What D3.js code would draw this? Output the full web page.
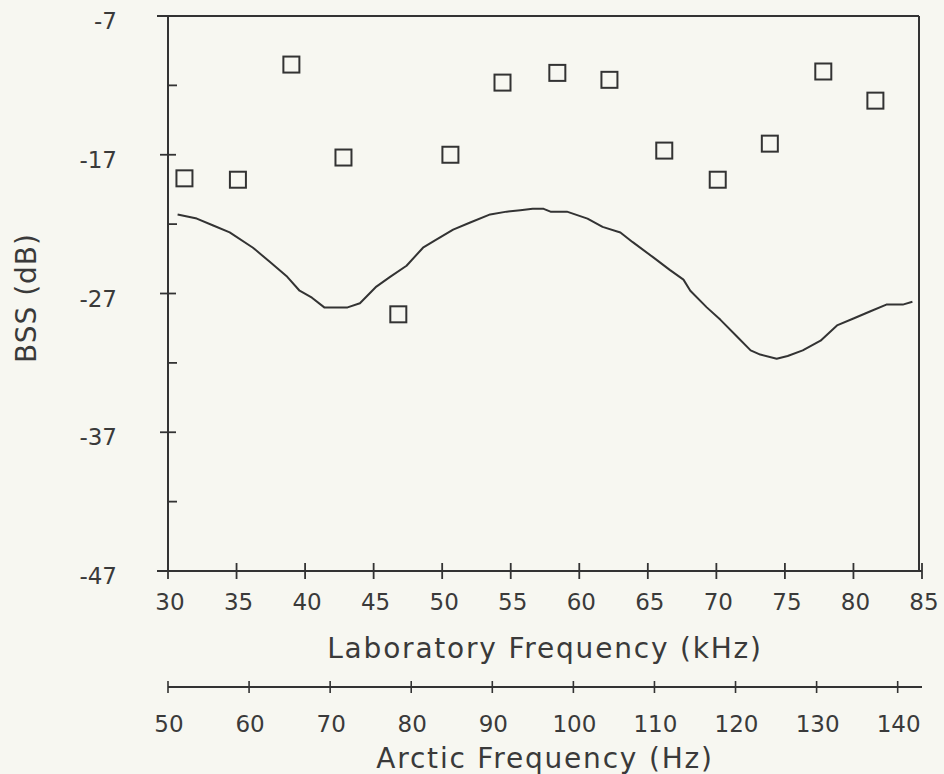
<!DOCTYPE html>
<html>
<head>
<meta charset="utf-8">
<script src="https://cdn.jsdelivr.net/npm/d3@7"></script>
<style>
  html, body { margin: 0; padding: 0; background: #f7f7f1; }
  svg { display: block; }
  text { font-family: "DejaVu Sans", sans-serif; fill: #3a3a3a; }
</style>
</head>
<body>
<svg id="chart" width="944" height="774"></svg>
<script>
// ---- data ----
const measuredFreq = [31.2, 35.1, 39.0, 42.8, 46.8, 50.6, 54.4, 58.4, 62.2, 66.2, 70.1, 73.9, 77.8, 81.6];
const measuredBSS  = [-18.7, -18.8, -10.5, -17.2, -28.5, -17.0, -11.8, -11.1, -11.6, -16.7, -18.8, -16.2, -11.0, -13.1];

const modelFreq = [30.7, 32.1, 33.3, 34.5, 36.2, 37.4, 38.7, 39.6, 40.5, 41.4, 43.1, 44.0, 45.2, 46.2, 47.4,
                   48.6, 49.6, 50.8, 52.0, 53.5, 54.7, 55.7, 56.6, 57.4, 57.9, 59.1, 60.6, 61.7, 63.0, 63.9,
                   65.4, 66.6, 67.6, 68.1, 69.3, 70.3, 71.5, 72.5, 73.2, 74.4, 75.2, 76.3, 77.6, 78.8, 80.0,
                   81.2, 82.4, 83.6, 84.3];
const modelBSS  = [-21.3, -21.6, -22.1, -22.6, -23.7, -24.7, -25.8, -26.8, -27.3, -28.0, -28.0, -27.7, -26.5, -25.8, -25.0,
                   -23.7, -23.1, -22.4, -21.9, -21.3, -21.1, -21.0, -20.9, -20.9, -21.1, -21.1, -21.6, -22.2, -22.6, -23.3,
                   -24.4, -25.3, -26.0, -26.8, -28.0, -28.9, -30.1, -31.1, -31.4, -31.7, -31.5, -31.1, -30.4, -29.3, -28.8,
                   -28.3, -27.8, -27.8, -27.6];

const yMajorTicks = [-7, -17, -27, -37, -47];
const yMinorTicks = [-12, -22, -32, -42];
const labTicks = [30, 35, 40, 45, 50, 55, 60, 65, 70, 75, 80, 85];
const arcticTicks = [50, 60, 70, 80, 90, 100, 110, 120, 130, 140];

const yTitle = "BSS (dB)";
const labTitle = "Laboratory Frequency (kHz)";
const arcticTitle = "Arctic Frequency (Hz)";

// ---- layout ----
const ink = "#333";
const pLeft = 168, pRight = 922, pTop = 16, pBottom = 571;

const x = d3.scaleLinear().domain([30, 85]).range([pLeft, pRight]);
const xArctic = d3.scaleLinear().domain([50, 143]).range([pLeft, pRight]);
const y = d3.scaleLinear().domain([-47, -7]).range([pBottom, pTop]);

const svg = d3.select("#chart");

// frame: top and right border
svg.append("line").attr("x1", pLeft - 11).attr("x2", pRight - 3).attr("y1", pTop).attr("y2", pTop)
  .attr("stroke", ink).attr("stroke-width", 2);
svg.append("line").attr("x1", pRight - 3).attr("x2", pRight - 3).attr("y1", pTop).attr("y2", pBottom)
  .attr("stroke", ink).attr("stroke-width", 2);

// left axis
const yAxisG = svg.append("g").attr("transform", `translate(${pLeft},0)`);
yAxisG.append("line").attr("y1", pTop).attr("y2", pBottom).attr("stroke", ink).attr("stroke-width", 2);
yAxisG.selectAll("line.maj").data(yMajorTicks).join("line").attr("class", "maj")
  .attr("x1", -8).attr("x2", 8).attr("y1", d => y(d)).attr("y2", d => y(d))
  .attr("stroke", ink).attr("stroke-width", 1.8);
yAxisG.selectAll("line.min").data(yMinorTicks).join("line").attr("class", "min")
  .attr("x1", 0).attr("x2", 9).attr("y1", d => y(d)).attr("y2", d => y(d))
  .attr("stroke", ink).attr("stroke-width", 1.8);
yAxisG.selectAll("text").data(yMajorTicks).join("text")
  .attr("x", -51).attr("y", d => y(d) + 13)
  .attr("text-anchor", "end").attr("font-size", 23)
  .text(d => d < 0 ? "-" + Math.abs(d) : d);

// bottom lab axis
const xAxisG = svg.append("g").attr("transform", `translate(0,${pBottom})`);
xAxisG.append("line").attr("x1", pLeft - 11).attr("x2", pRight).attr("stroke", ink).attr("stroke-width", 2);
xAxisG.selectAll("line.t").data(labTicks).join("line").attr("class", "t")
  .attr("x1", d => x(d)).attr("x2", d => x(d)).attr("y1", d => d === 30 ? 0 : -8).attr("y2", 8)
  .attr("stroke", ink).attr("stroke-width", 1.8);
xAxisG.selectAll("text").data(labTicks).join("text")
  .attr("x", d => x(d) + 2).attr("y", 39)
  .attr("text-anchor", "middle").attr("font-size", 23)
  .text(d => d);

svg.append("text").attr("x", (pLeft + pRight) / 2).attr("y", 658)
  .attr("text-anchor", "middle").attr("font-size", 28).attr("letter-spacing", 1.8)
  .text(labTitle);

// arctic axis
const aY = 687;
const aG = svg.append("g").attr("transform", `translate(0,${aY})`);
aG.append("line").attr("x1", xArctic(50)).attr("x2", pRight).attr("stroke", ink).attr("stroke-width", 2);
aG.selectAll("line.t").data(arcticTicks).join("line").attr("class", "t")
  .attr("x1", d => xArctic(d)).attr("x2", d => xArctic(d)).attr("y1", -6).attr("y2", 6)
  .attr("stroke", ink).attr("stroke-width", 1.6);
aG.selectAll("text").data(arcticTicks).join("text")
  .attr("x", d => xArctic(d) + 1).attr("y", 45)
  .attr("text-anchor", "middle").attr("font-size", 23)
  .text(d => d);

svg.append("text").attr("x", (pLeft + pRight) / 2).attr("y", 768)
  .attr("text-anchor", "middle").attr("font-size", 28).attr("letter-spacing", 1.8)
  .text(arcticTitle);

// y title
svg.append("text").attr("transform", `translate(36,298) rotate(-90)`)
  .attr("text-anchor", "middle").attr("font-size", 28).attr("letter-spacing", 1)
  .text(yTitle);

// model curve
const modelData = modelFreq.map((f, i) => ({ f, v: modelBSS[i] }));
svg.append("path").datum(modelData)
  .attr("d", d3.line().x(d => x(d.f)).y(d => y(d.v)))
  .attr("fill", "none").attr("stroke", ink).attr("stroke-width", 2).attr("stroke-linejoin", "round");

// measured squares
const sq = 16;
const measData = measuredFreq.map((f, i) => ({ f, v: measuredBSS[i] }));
svg.selectAll("rect.m").data(measData).join("rect").attr("class", "m")
  .attr("x", d => x(d.f) - sq / 2).attr("y", d => y(d.v) - sq / 2)
  .attr("width", sq).attr("height", sq)
  .attr("fill", "none").attr("stroke", ink).attr("stroke-width", 2);
</script>
</body>
</html>
